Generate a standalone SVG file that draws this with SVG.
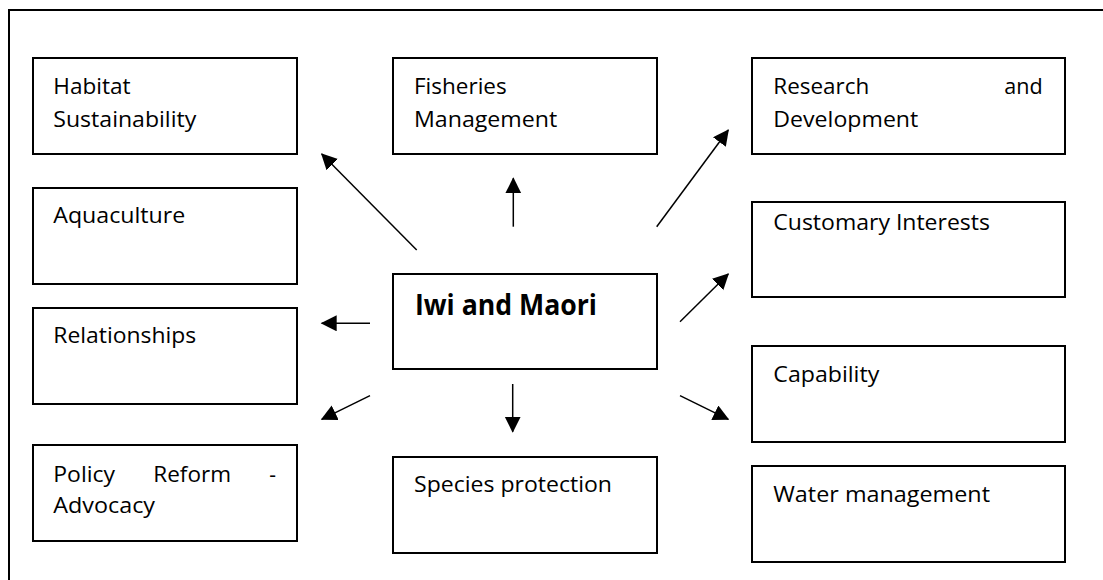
<svg xmlns="http://www.w3.org/2000/svg" width="1103" height="580" viewBox="0 0 1103 580">
<style>
.box{fill:#fff;stroke:#000;stroke-width:2}
.t{font-family:"Open Sans","Liberation Sans",sans-serif;font-size:21px;fill:#000}
.b{font-family:"Open Sans","Liberation Sans",sans-serif;font-size:28px;font-weight:bold;fill:#000}
.c{stroke:#000;stroke-width:1.5;fill:none;marker-end:url(#ah)}
</style>
<defs>
<marker id="ah" markerUnits="userSpaceOnUse" markerWidth="17" markerHeight="17" refX="15" refY="8" orient="auto">
<path d="M0,0 L16,8 L0,16 z" fill="#000"/>
</marker>
</defs>
<rect x="0" y="0" width="1103" height="580" fill="#fff"/>
<rect id="frame" x="9" y="10" width="1110" height="590" fill="none" stroke="#000" stroke-width="2"/>
<g id="habitat"><rect class="box" x="33" y="58" width="264" height="96"/>
<text class="t" x="53.3" y="94.3" textLength="77.3" lengthAdjust="spacingAndGlyphs">Habitat</text>
<text class="t" x="53.3" y="126.5" textLength="143" lengthAdjust="spacingAndGlyphs">Sustainability</text></g>
<g id="aquaculture"><rect class="box" x="33" y="188" width="264" height="96"/>
<text class="t" x="53.3" y="222.7" textLength="132" lengthAdjust="spacingAndGlyphs">Aquaculture</text></g>
<g id="relationships"><rect class="box" x="33" y="308" width="264" height="96"/>
<text class="t" x="53.3" y="343.3" textLength="143" lengthAdjust="spacingAndGlyphs">Relationships</text></g>
<g id="policy"><rect class="box" x="33" y="445" width="264" height="96"/>
<text class="t" y="481.7"><tspan x="53.3" textLength="61.7" lengthAdjust="spacingAndGlyphs">Policy</tspan><tspan x="153.3" textLength="77.7" lengthAdjust="spacingAndGlyphs">Reform</tspan><tspan x="269.3">-</tspan></text>
<text class="t" x="53.3" y="513.3" textLength="101.7" lengthAdjust="spacingAndGlyphs">Advocacy</text></g>
<g id="fisheries"><rect class="box" x="393" y="58" width="264" height="96"/>
<text class="t" x="414" y="94.3" textLength="92.7" lengthAdjust="spacingAndGlyphs">Fisheries</text>
<text class="t" x="414" y="126.5" textLength="143.3" lengthAdjust="spacingAndGlyphs">Management</text></g>
<g id="iwi"><rect class="box" x="393" y="274" width="264" height="95"/>
<text class="b" x="415" y="315" textLength="182" lengthAdjust="spacingAndGlyphs">Iwi and Maori</text></g>
<g id="species"><rect class="box" x="393" y="457" width="264" height="96"/>
<text class="t" x="414" y="491.7" textLength="198" lengthAdjust="spacingAndGlyphs">Species protection</text></g>
<g id="research"><rect class="box" x="752" y="58" width="313" height="96"/>
<text class="t" x="773.3" y="94.3" textLength="96" lengthAdjust="spacingAndGlyphs">Research</text>
<text class="t" x="1004.3" y="94.3" textLength="38.4" lengthAdjust="spacingAndGlyphs">and</text>
<text class="t" x="773.3" y="126.5" textLength="145" lengthAdjust="spacingAndGlyphs">Development</text></g>
<g id="customary"><rect class="box" x="752" y="202" width="313" height="95"/>
<text class="t" x="773.3" y="230" textLength="216.7" lengthAdjust="spacingAndGlyphs">Customary Interests</text></g>
<g id="capability"><rect class="box" x="752" y="346" width="313" height="96"/>
<text class="t" x="773.3" y="381.7" textLength="106" lengthAdjust="spacingAndGlyphs">Capability</text></g>
<g id="water"><rect class="box" x="752" y="466" width="313" height="96"/>
<text class="t" x="773.3" y="501.7" textLength="216.7" lengthAdjust="spacingAndGlyphs">Water management</text></g>
<g id="connectors">
<line class="c" x1="416.7" y1="250" x2="321.7" y2="154"/>
<line class="c" x1="513.3" y1="226.7" x2="513.3" y2="178.3"/>
<line class="c" x1="656.7" y1="226.7" x2="728.3" y2="130"/>
<line class="c" x1="680" y1="321.7" x2="728.3" y2="274"/>
<line class="c" x1="370" y1="323.3" x2="321.7" y2="323.3"/>
<line class="c" x1="370" y1="395.7" x2="321.7" y2="419.3"/>
<line class="c" x1="512.7" y1="384" x2="512.7" y2="431.7"/>
<line class="c" x1="680" y1="395.7" x2="728.3" y2="419.3"/>
</g>
</svg>
